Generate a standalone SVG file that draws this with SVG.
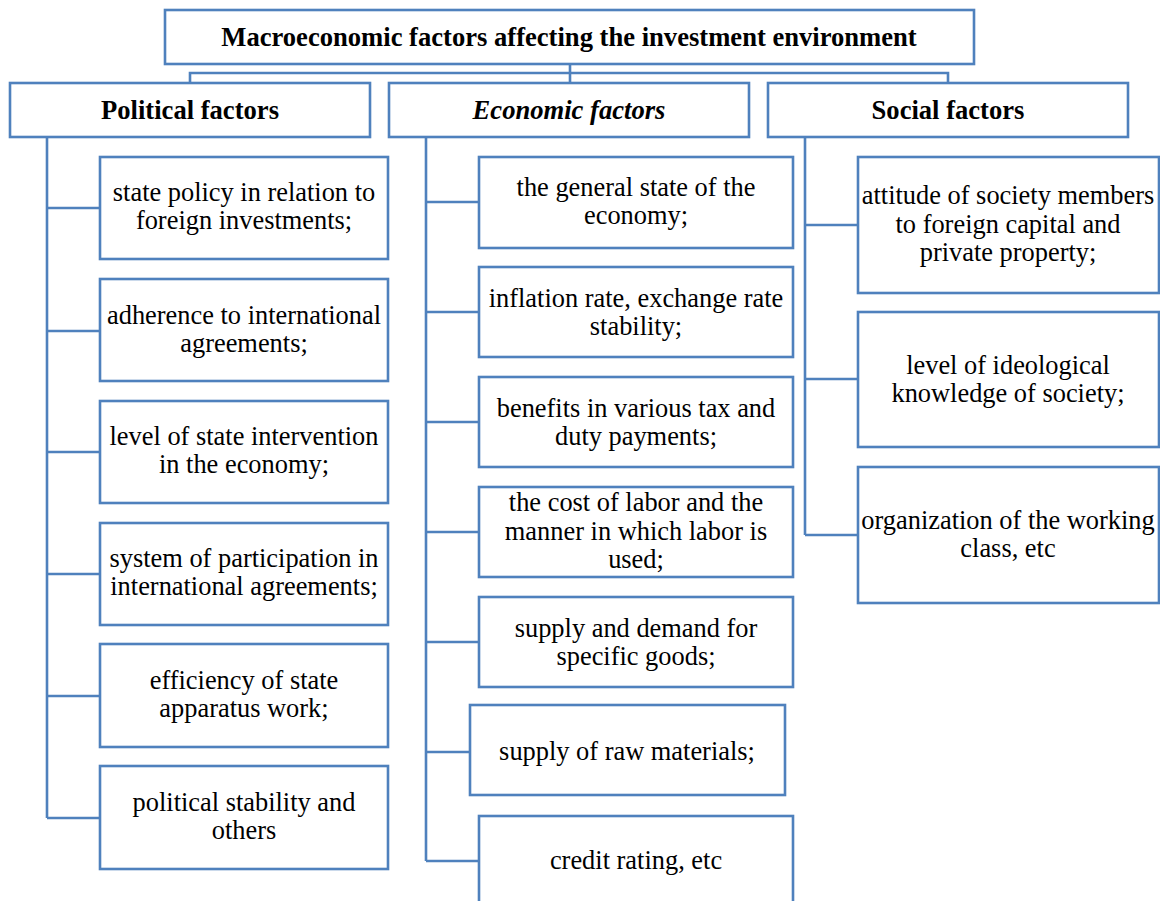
<svg xmlns="http://www.w3.org/2000/svg" width="1160" height="901" viewBox="0 0 1160 901">
<style>
.box{fill:#fff;stroke:#4F81BD;stroke-width:2.6}
.ln{fill:none;stroke:#4F81BD;stroke-width:2.6}
text{font-family:'Liberation Serif',Tinos,'Times New Roman','DejaVu Serif',serif;font-size:26.4px;fill:#000;text-anchor:middle}
.h{font-weight:bold;font-size:26.6px}
.hi{font-weight:bold;font-style:italic;font-size:26.6px}
</style>
<rect width="1160" height="901" fill="#fff"/>
<g id="connectors">
<path class="ln" d="M570 64V83M190 83V73H948V83"/>
<path class="ln" d="M47 137V818M47 208H100M47 331H100M47 452H100M47 574H100M47 696H100M47 818H100"/>
<path class="ln" d="M426 137V861M426 202H479M426 312H479M426 422H479M426 532H479M426 642H479M426 752H470M426 861H479"/>
<path class="ln" d="M805 137V535M805 225H858M805 379H858M805 535H858"/>
</g>
<g id="root"><rect class="box" x="165" y="10" width="809" height="54"/><text class="h" x="569" y="46">Macroeconomic factors affecting the investment environment</text></g>
<g id="political"><rect class="box" x="10" y="83" width="360" height="54"/><text class="h" x="190" y="119">Political factors</text></g>
<g id="economic"><rect class="box" x="389" y="83" width="360" height="54"/><text class="hi" x="569" y="119">Economic factors</text></g>
<g id="social"><rect class="box" x="768" y="83" width="360" height="54"/><text class="h" x="948" y="119">Social factors</text></g>

<g id="p1"><rect class="box" x="100" y="157" width="288" height="102"/><text x="244" y="201">state policy in relation to</text><text x="244" y="229">foreign investments;</text></g>
<g id="p2"><rect class="box" x="100" y="279" width="288" height="102"/><text x="244" y="324">adherence to international</text><text x="244" y="352">agreements;</text></g>
<g id="p3"><rect class="box" x="100" y="401" width="288" height="102"/><text x="244" y="445">level of state intervention</text><text x="244" y="473">in the economy;</text></g>
<g id="p4"><rect class="box" x="100" y="523" width="288" height="102"/><text x="244" y="567">system of participation in</text><text x="244" y="595">international agreements;</text></g>
<g id="p5"><rect class="box" x="100" y="644" width="288" height="103"/><text x="244" y="689">efficiency of state</text><text x="244" y="717">apparatus work;</text></g>
<g id="p6"><rect class="box" x="100" y="766" width="288" height="103"/><text x="244" y="811">political stability and</text><text x="244" y="839">others</text></g>

<g id="e1"><rect class="box" x="479" y="157" width="314" height="91"/><text x="636" y="196">the general state of the</text><text x="636" y="224">economy;</text></g>
<g id="e2"><rect class="box" x="479" y="267" width="314" height="90"/><text x="636" y="307">inflation rate, exchange rate</text><text x="636" y="335">stability;</text></g>
<g id="e3"><rect class="box" x="479" y="377" width="314" height="90"/><text x="636" y="417">benefits in various tax and</text><text x="636" y="445">duty payments;</text></g>
<g id="e4"><rect class="box" x="479" y="487" width="314" height="90"/><text x="636" y="511">the cost of labor and the</text><text x="636" y="540">manner in which labor is</text><text x="636" y="568">used;</text></g>
<g id="e5"><rect class="box" x="479" y="597" width="314" height="90"/><text x="636" y="637">supply and demand for</text><text x="636" y="665">specific goods;</text></g>
<g id="e6"><rect class="box" x="470" y="705" width="315" height="90"/><text x="627" y="760">supply of raw materials;</text></g>
<g id="e7"><rect class="box" x="479" y="816" width="314" height="100"/><text x="636" y="869">credit rating, etc</text></g>

<g id="s1"><rect class="box" x="858" y="157" width="301" height="136"/><text x="1008" y="204">attitude of society members</text><text x="1008" y="233">to foreign capital and</text><text x="1008" y="261">private property;</text></g>
<g id="s2"><rect class="box" x="858" y="312" width="301" height="135"/><text x="1008" y="374">level of ideological</text><text x="1008" y="402">knowledge of society;</text></g>
<g id="s3"><rect class="box" x="858" y="467" width="301" height="136"/><text x="1008" y="529">organization of the working</text><text x="1008" y="557">class, etc</text></g>
</svg>
